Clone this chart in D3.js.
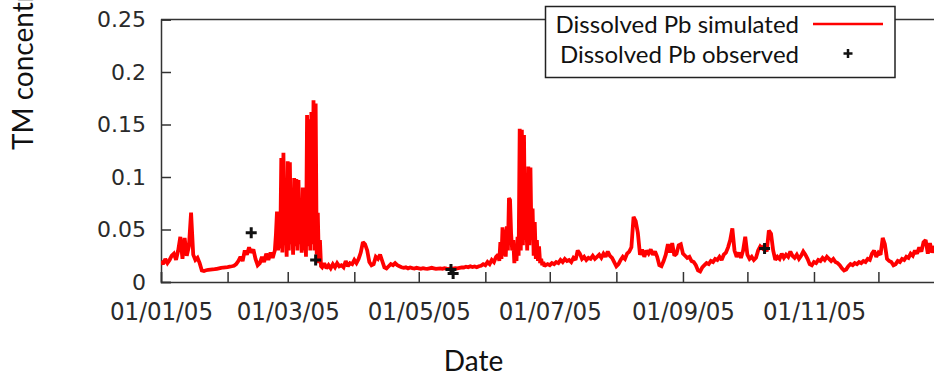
<!DOCTYPE html>
<html>
<head>
<meta charset="utf-8">
<script src="https://cdn.jsdelivr.net/npm/d3@7"></script>
<style>
  html, body { margin: 0; padding: 0; background: #fff; overflow: hidden; }
  svg { display: block; }
</style>
</head>
<body>
<svg id="chart" width="934" height="376"></svg>
<script>
// ---- Simulated dissolved Pb (mg/l), 2005 ----
// Daily values, 01/01/05 .. 22/02/05
const pbJanFeb = [
  0.020, 0.017, 0.022, 0.018, 0.021, 0.025, 0.027, 0.021, 0.030, 0.043,
  0.022, 0.042, 0.025, 0.034, 0.066, 0.026, 0.021, 0.023, 0.018, 0.011,
  0.0105, 0.0112, 0.0115, 0.0118, 0.012, 0.0122, 0.0126, 0.013, 0.0134, 0.0138,
  0.014, 0.0142, 0.0146, 0.015, 0.0155, 0.017, 0.020, 0.024, 0.020, 0.030,
  0.026, 0.033, 0.028, 0.031, 0.022, 0.016, 0.018, 0.024, 0.019, 0.027,
  0.021, 0.028, 0.023
];
// 12-hourly values during the late-winter flood event, from 23/02/05
const pbEventMar = [
  0.030, 0.045, 0.067, 0.030, 0.055, 0.032, 0.118, 0.028, 0.123, 0.035,
  0.060, 0.024, 0.115, 0.030, 0.114, 0.036, 0.065, 0.026, 0.099, 0.034,
  0.098, 0.030, 0.097, 0.036, 0.068, 0.028, 0.090, 0.030, 0.060, 0.024,
  0.159, 0.034, 0.155, 0.030, 0.162, 0.036, 0.173, 0.030, 0.170, 0.026,
  0.066, 0.018, 0.040, 0.015
];
// Daily values, 17/03/05 .. 06/06/05
const pbMarJun = [
  0.014, 0.018, 0.013, 0.016, 0.013, 0.017, 0.014, 0.018, 0.015, 0.016,
  0.014, 0.020, 0.015, 0.018, 0.017, 0.021, 0.018, 0.022, 0.028, 0.038,
  0.036, 0.030, 0.019, 0.016, 0.017, 0.024, 0.022, 0.026, 0.020, 0.014,
  0.013, 0.015, 0.017, 0.016, 0.018, 0.016, 0.015, 0.014, 0.0135, 0.014,
  0.013, 0.0138, 0.0132, 0.0128, 0.0135, 0.013, 0.0125, 0.0132, 0.0128, 0.0125,
  0.013, 0.0135, 0.013, 0.0125, 0.0128, 0.013, 0.0125, 0.0132, 0.0128, 0.0125,
  0.013, 0.0128, 0.0132, 0.013, 0.0135, 0.014, 0.0138, 0.0145, 0.014, 0.015,
  0.0142, 0.0148, 0.014, 0.015, 0.0155, 0.017, 0.016, 0.019, 0.017, 0.021,
  0.019, 0.024
];
// 12-hourly values during the June event, from 07/06/05
const pbEventJun = [
  0.026, 0.020, 0.038, 0.022, 0.052, 0.025, 0.050, 0.024, 0.053, 0.030,
  0.080, 0.078, 0.046, 0.030, 0.040, 0.018, 0.030, 0.020, 0.043, 0.025,
  0.146, 0.030, 0.145, 0.035, 0.140, 0.040, 0.062, 0.030, 0.110, 0.035,
  0.109, 0.040, 0.070, 0.025, 0.057, 0.022, 0.040, 0.020, 0.034, 0.018,
  0.022, 0.016, 0.019, 0.015
];
// Daily values, 29/06/05 .. 28/12/05
const pbJulDec = [
  0.016, 0.017, 0.016, 0.018, 0.017, 0.019, 0.018, 0.021, 0.019, 0.022,
  0.020, 0.021, 0.019, 0.023, 0.021, 0.030, 0.027, 0.022, 0.024, 0.021,
  0.023, 0.022, 0.025, 0.022, 0.024, 0.026, 0.023, 0.027, 0.024, 0.029,
  0.025, 0.023, 0.019, 0.015, 0.017, 0.021, 0.024, 0.022, 0.027, 0.029,
  0.033, 0.062, 0.058, 0.047, 0.026, 0.031, 0.024, 0.030, 0.027, 0.031,
  0.026, 0.029, 0.024, 0.016, 0.015, 0.020, 0.026, 0.036, 0.028, 0.037,
  0.025, 0.027, 0.035, 0.036, 0.027, 0.025, 0.023, 0.024, 0.020, 0.019,
  0.016, 0.011, 0.010, 0.014, 0.016, 0.018, 0.017, 0.020, 0.019, 0.022,
  0.021, 0.024, 0.021, 0.026, 0.028, 0.033, 0.040, 0.051, 0.030, 0.024,
  0.028, 0.023, 0.030, 0.043, 0.026, 0.022, 0.024, 0.021, 0.023, 0.030,
  0.034, 0.032, 0.035, 0.029, 0.049, 0.046, 0.030, 0.021, 0.024, 0.022,
  0.027, 0.023, 0.026, 0.024, 0.029, 0.025, 0.023, 0.026, 0.022, 0.025,
  0.029, 0.026, 0.022, 0.017, 0.016, 0.019, 0.018, 0.021, 0.020, 0.023,
  0.021, 0.024, 0.022, 0.020, 0.022, 0.019, 0.018, 0.016, 0.013, 0.011,
  0.012, 0.015, 0.017, 0.016, 0.018, 0.017, 0.019, 0.018, 0.020, 0.019,
  0.022, 0.021, 0.027, 0.030, 0.024, 0.028, 0.026, 0.042, 0.036, 0.022,
  0.020, 0.019, 0.016, 0.017, 0.020, 0.019, 0.022, 0.021, 0.024, 0.023,
  0.027, 0.025, 0.030, 0.027, 0.033, 0.029, 0.038, 0.040, 0.027, 0.037,
  0.028, 0.034, 0.030
];

// ---- Observed dissolved Pb samples ----
const obsDates = ["2005-02-12", "2005-03-14", "2005-05-16", "2005-05-17", "2005-10-09"];
const obsPb    = [0.047, 0.021, 0.012, 0.008, 0.032];

// ---- Axis ticks ----
const yTicks = [0, 0.05, 0.1, 0.15, 0.2, 0.25];
const yTickLabels = ["0", "0.05", "0.1", "0.15", "0.2", "0.25"];

// Series segments: start date and sampling step
const segments = [
  { start: "2005-01-01T00:00:00Z", stepHours: 24, values: pbJanFeb },
  { start: "2005-02-23T00:00:00Z", stepHours: 12, values: pbEventMar },
  { start: "2005-03-17T00:00:00Z", stepHours: 24, values: pbMarJun },
  { start: "2005-06-07T00:00:00Z", stepHours: 12, values: pbEventJun },
  { start: "2005-06-29T00:00:00Z", stepHours: 24, values: pbJulDec }
];
const simulated = segments.flatMap(s => {
  const t0 = Date.parse(s.start);
  return s.values.map((v, i) => ({ date: new Date(t0 + i * s.stepHours * 3600e3), value: v }));
});
const observed = obsDates.map((d, i) => ({ date: new Date(d + "T00:00:00Z"), value: obsPb[i] }));

// ---- Layout ----
const plot = { left: 161, top: 19.5, bottom: 282, right: 945 };
const svg = d3.select("#chart");

const x = d3.scaleUtc()
  .domain([new Date(Date.UTC(2005, 0, 1)), new Date(Date.UTC(2006, 0, 1))])
  .range([plot.left, plot.right]);
const y = d3.scaleLinear().domain([0, 0.25]).range([plot.bottom, plot.top]);

const axisColor = "#333";
const yTickFont = "'DejaVu Sans', Verdana, sans-serif";
const xTickFont = "'DejaVu Sans Condensed', 'DejaVu Sans', sans-serif";
const titleFont = "Lato, 'Open Sans', sans-serif";

svg.append("defs").append("clipPath").attr("id", "plotClip")
  .append("rect")
  .attr("x", plot.left).attr("y", plot.top - 5)
  .attr("width", plot.right - plot.left).attr("height", plot.bottom - plot.top + 5);

// Frame: top and right borders
svg.append("path")
  .attr("d", `M${plot.left},${plot.top}H${plot.right}V${plot.bottom}`)
  .attr("fill", "none").attr("stroke", axisColor).attr("stroke-width", 1.5);

// Y axis
const yAxis = svg.append("g")
  .attr("transform", `translate(${plot.left},0)`)
  .call(d3.axisLeft(y).tickValues(yTicks)
    .tickFormat((d, i) => yTickLabels[i])
    .tickSize(-10).tickPadding(15));

// X axis: monthly ticks, labels every second month
const monthTicks = d3.utcMonths(new Date(Date.UTC(2005, 0, 1)), new Date(Date.UTC(2006, 0, 1)));
const fmt = d3.utcFormat("%d/%m/%y");
const xAxis = svg.append("g")
  .attr("transform", `translate(0,${plot.bottom})`)
  .call(d3.axisBottom(x).tickValues(monthTicks)
    .tickFormat(d => d.getUTCMonth() % 2 === 0 ? fmt(d) : "")
    .tickSize(-10).tickPadding(20));

[yAxis, xAxis].forEach(g => {
  g.select(".domain").attr("stroke", axisColor).attr("stroke-width", 1.5);
  g.selectAll(".tick line").attr("stroke", axisColor).attr("stroke-width", 1.5);
  g.selectAll(".tick text").attr("fill", "#2a2a2a");
});
yAxis.selectAll(".tick text")
  .style("font-family", yTickFont)
  .style("font-size", "22px");
xAxis.selectAll(".tick text")
  .style("font-family", xTickFont)
  .style("font-stretch", "condensed")
  .style("font-size", "25.5px");

// Simulated line
const line = d3.line().x(d => x(d.date)).y(d => y(d.value));
svg.append("path")
  .datum(simulated)
  .attr("clip-path", "url(#plotClip)")
  .attr("d", line)
  .attr("fill", "none")
  .attr("stroke", "#ff0000")
  .attr("stroke-width", 3.8)
  .attr("stroke-linejoin", "miter")
  .attr("stroke-miterlimit", 2);

// Observed points as plus markers
const plus = "M-5.5,0H5.5M0,-5.5V5.5";
svg.append("g").selectAll("path")
  .data(observed)
  .join("path")
  .attr("transform", d => `translate(${x(d.date)},${y(d.value)})`)
  .attr("d", plus)
  .attr("stroke", "#111")
  .attr("stroke-width", 3)
  .attr("fill", "none");

// Axis titles
svg.append("text")
  .attr("x", 473.5).attr("y", 371)
  .attr("text-anchor", "middle")
  .style("font-family", titleFont).style("font-size", "28px")
  .attr("fill", "#111")
  .text("Date");

svg.append("text")
  .attr("transform", "translate(33,150) rotate(-90)")
  .attr("text-anchor", "start")
  .style("font-family", titleFont).style("font-size", "28px")
  .attr("fill", "#111")
  .text("TM concentration (mg/l)");

// Legend
const lg = svg.append("g");
lg.append("rect")
  .attr("x", 545.5).attr("y", 6.5).attr("width", 349.5).attr("height", 71)
  .attr("fill", "#fff").attr("stroke", "#222").attr("stroke-width", 1.5);
lg.append("text")
  .attr("x", 799).attr("y", 33)
  .attr("text-anchor", "end")
  .style("font-family", titleFont).style("font-size", "24px")
  .attr("fill", "#111")
  .text("Dissolved Pb simulated");
lg.append("text")
  .attr("x", 799).attr("y", 63)
  .attr("text-anchor", "end")
  .style("font-family", titleFont).style("font-size", "24px")
  .attr("fill", "#111")
  .text("Dissolved Pb observed");
lg.append("line")
  .attr("x1", 813).attr("x2", 883).attr("y1", 24).attr("y2", 24)
  .attr("stroke", "#ff0000").attr("stroke-width", 2.5);
lg.append("path")
  .attr("transform", "translate(848,53.5)")
  .attr("d", "M-4.5,0H4.5M0,-4.5V4.5")
  .attr("stroke", "#111").attr("stroke-width", 2.5).attr("fill", "none");
</script>
</body>
</html>
